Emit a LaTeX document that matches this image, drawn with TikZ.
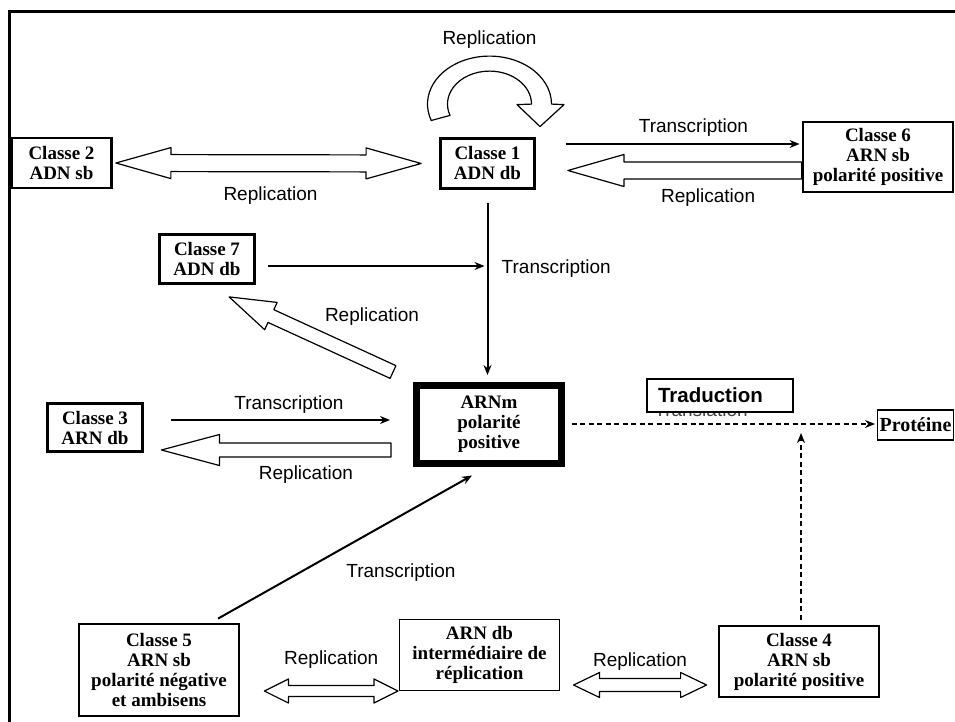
\documentclass[tikz,border=0pt]{standalone}
\usepackage{fontspec}
\setmainfont{Liberation Serif}
\setsansfont{Liberation Sans}
\usetikzlibrary{arrows.meta, calc, positioning}

% hollow arrow: tail, tip, shaft half width, head half width, head length
\newcommand{\hollowarrow}[5]{%
  \coordinate (hb) at ($(#2)!#5!(#1)$);
  \draw[hollow] ($(#1)!#3!-90:(#2)$) -- ($(hb)!#3!90:(#1)$) -- ($(hb)!#4!90:(#1)$) -- (#2)
    -- ($(hb)!#4!-90:(#1)$) -- ($(hb)!#3!-90:(#1)$) -- ($(#1)!#3!90:(#2)$) -- cycle;}
% hollow arrow with two heads
\newcommand{\dblhollow}[5]{%
  \coordinate (ha) at ($(#1)!#5!(#2)$);
  \coordinate (hb) at ($(#2)!#5!(#1)$);
  \draw[hollow] (#1) -- ($(ha)!#4!-90:(#2)$) -- ($(ha)!#3!-90:(#2)$) -- ($(hb)!#3!90:(#1)$)
    -- ($(hb)!#4!90:(#1)$) -- (#2) -- ($(hb)!#4!-90:(#1)$) -- ($(hb)!#3!-90:(#1)$)
    -- ($(ha)!#3!90:(#2)$) -- ($(ha)!#4!90:(#2)$) -- cycle;}

\begin{document}
\begin{tikzpicture}[>={Stealth[length=10pt, width=8pt]}, x=1pt, y=-1pt, font=\fontsize{19}{20}\selectfont,
  classbox/.style={draw, line width=2.8pt, align=center, inner sep=0pt, fill=white,
    font=\fontsize{19}{20}\selectfont\bfseries},
  thinbox/.style={draw, line width=1.1pt, align=center, inner sep=0pt, fill=white,
    font=\fontsize{19}{20}\selectfont\bfseries},
  lbl/.style={font=\sffamily\fontsize{19}{20}\selectfont, inner sep=0pt},
  conn/.style={line width=2pt},
  dashconn/.style={line width=2pt, dash pattern=on 5pt off 3.5pt},
  hollow/.style={draw, line width=1.2pt, fill=white, line join=round}]
\useasboundingbox (0,0) rectangle (955,722);
\draw[line width=3pt] (9,730) -- (9,11.5) -- (960,11.5);
%
\node[classbox, minimum width=100pt, minimum height=50pt] (c2) at (61.5,163) {Classe 2\\ADN sb};
\node[classbox, minimum width=94pt, minimum height=50pt] (c1) at (487.5,163.5) {Classe 1\\ADN db};
\node[classbox, minimum width=150pt, minimum height=70pt] (c6) at (878,157) {Classe 6\\ARN sb\\polarité positive};
\node[classbox, minimum width=95pt, minimum height=49pt] (c7) at (207,259) {Classe 7\\ADN db};
\node[classbox, minimum width=95pt, minimum height=48pt] (c3) at (95,427.5) {Classe 3\\ARN db};
\node[classbox, line width=7pt, minimum width=145pt, minimum height=78pt] (arnm) at (489,424.5) {ARNm\\polarité\\positive};
\node[classbox, minimum width=160pt, minimum height=92pt] (c5) at (159,670) {Classe 5\\ARN sb\\polarité négative\\et ambisens};
\node[thinbox, minimum width=160pt, minimum height=71pt] (arndb) at (479.5,655) {ARN db\\intermédiaire de\\réplication};
\node[classbox, minimum width=160pt, minimum height=71pt] (c4) at (799,661.5) {Classe 4\\ARN sb\\polarité positive};
\node[thinbox, anchor=west, inner xsep=2pt, minimum height=30pt,
  font=\fontsize{20}{20}\selectfont\bfseries] (prot) at (877,425) {Protéine};
\node[lbl, text=black!75, anchor=base] (transl) at (701,416) {Translation};
\node[thinbox, text width=124pt, inner xsep=11pt, minimum height=33pt, align=left,
  font=\sffamily\fontsize{20.5}{21}\selectfont\bfseries] (trad) at (720,395.5) {Traduction};
%
% Classe 2 <-> Classe 1
\coordinate (a21) at ($(c2.east)+(3,0)$);
\coordinate (a12) at ($(c1.west)+(-18,0)$);
\dblhollow{a21}{a12}{8.5pt}{15.5pt}{55pt}
\node[lbl] at ($(a21)!0.5!(a12)+(2,32)$) {Replication};
%
% replication loop over Classe 1
\coordinate (rc) at ($(c1.north)+(2,-33)$);
\draw[hollow] ($(rc)+(160:62 and 48)$) arc[start angle=160, end angle=360, x radius=62, y radius=48]
  -- ($(rc)+(74.5,0.5)$) -- ($(rc)+(50.5,22.5)$) -- ($(rc)+(27.5,0.5)$) -- ($(rc)+(42,0)$)
  arc[start angle=360, end angle=160, x radius=42, y radius=33] -- cycle;
\node[lbl] at ($(rc)+(0,-65)$) {Replication};
%
% Classe 1 <-> Classe 6
\coordinate (t16) at ($(c1.east)+(30,-19.5)$);
\draw[conn,->] (t16) -- ($(t16 -| c6.west)+(-2,0)$);
\node[lbl] at ($(t16)+(127.5,-16)$) {Transcription};
\coordinate (r61) at ($(c6.west)+(0,13.5)$);
\coordinate (r16) at ($(c1.east)+(32,7)$);
\hollowarrow{r61}{r16}{8.5pt}{16pt}{56pt}
\node[lbl] at ($(r61)+(-93.5,27)$) {Replication};
%
% Classe 1 and Classe 7 -> ARNm
\draw[conn,->] ($(c1.south)+(0,13)$) -- ($(c1.south |- arnm.north)+(0,-7)$);
\node[lbl, anchor=west] at ($(c1.south |- c7.east)+(14,10)$) {Transcription};
\coordinate (t7) at ($(c7.east)+(12,7)$);
\draw[conn,->] (t7) -- ($(t7 -| c1.south)+(-3,0)$);
\coordinate (r7a) at ($(arnm.north west)+(-20,-10)$);
\coordinate (r7b) at ($(c7.south west)+(71,12)$);
\hollowarrow{r7a}{r7b}{7pt}{15pt}{46pt}
\node[lbl] at ($(r7a)+(-21,-55)$) {Replication};
%
% Classe 3 <-> ARNm
\coordinate (t3) at ($(c3.east)+(27,-7.5)$);
\draw[conn,->] (t3) -- ($(t3 -| arnm.west)+(-23,0)$);
\node[lbl] at ($(t3)+(118,-15)$) {Transcription};
\coordinate (r3a) at ($(arnm.west)+(-22,25.5)$);
\coordinate (r3b) at ($(c3.east)+(17.5,22.5)$);
\hollowarrow{r3a}{r3b}{7pt}{15.5pt}{58pt}
\node[lbl] at ($(r3b)+(144.5,25)$) {Replication};
%
% Classe 5 -> ARNm
\draw[conn,->] ($(c5.north)+(59,-4)$) -- ($(arnm.south)+(-17,8.5)$);
\node[lbl] at ($(arnm.south)+(-88,106)$) {Transcription};
%
% translation
\coordinate (d1) at ($(arnm.east)+(6.5,-0.5)$);
\draw[dashconn,->] (d1) -- ($(d1 -| prot.west)+(-2,0)$);
\coordinate (d4) at ($(c4.north)+(2,-5)$);
\draw[dashconn,->] (d4) -- ($(d4 |- prot.west)+(0,8)$);
%
% replication intermediate
\coordinate (b5) at ($(c5.east)+(24,21)$);
\coordinate (bd) at ($(arndb.west)+(-1,36)$);
\dblhollow{b5}{bd}{5.5pt}{12pt}{24pt}
\node[lbl] at ($(b5)!0.5!(bd)+(0,-31)$) {Replication};
\coordinate (b6) at ($(arndb.east)+(13.5,30)$);
\coordinate (b4) at ($(c4.west)+(-11,23.5)$);
\dblhollow{b6}{b4}{6.5pt}{12.5pt}{26pt}
\node[lbl] at ($(b6)!0.5!(b4)+(0,-23)$) {Replication};
\end{tikzpicture}
\end{document}
